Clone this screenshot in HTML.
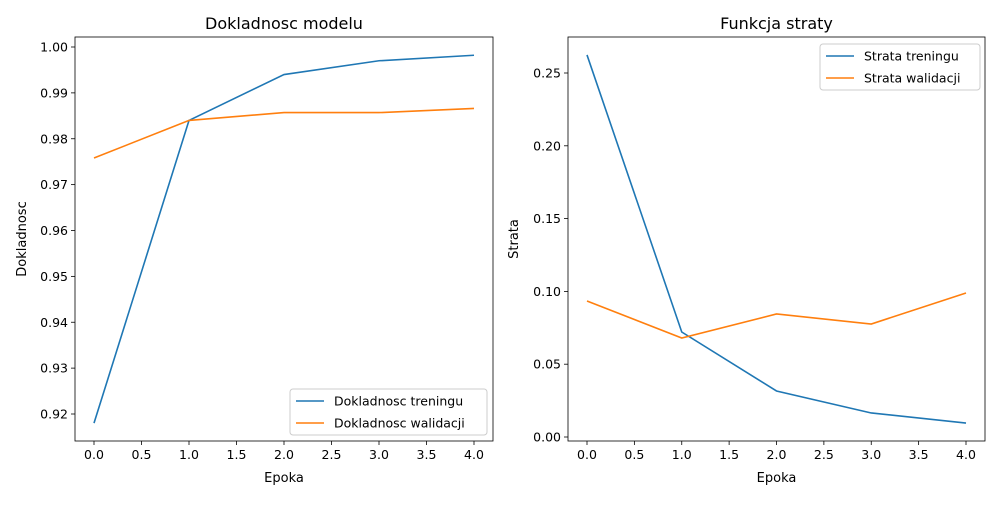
<!DOCTYPE html>
<html><head><meta charset="utf-8"><style>
body{margin:0;background:#fff;width:1000px;height:500px;overflow:hidden}
svg text{font-family:"DejaVu Sans","Liberation Sans",sans-serif;fill:#000}
</style></head><body>
<svg id="c" width="1000" height="500"></svg>
<script>
const epochs=[0,1,2,3,4];
const accTrain=[0.918,0.984,0.994,0.997,0.9982];
const accVal=[0.9758,0.984,0.9857,0.9857,0.9866];
const lossTrain=[0.2624,0.0721,0.0316,0.0165,0.0096];
const lossVal=[0.0934,0.068,0.0845,0.0776,0.0989];
const xTicks=[0,0.5,1,1.5,2,2.5,3,3.5,4];
const accTicks=[0.92,0.93,0.94,0.95,0.96,0.97,0.98,0.99,1.00];
const lossTicks=[0,0.05,0.10,0.15,0.20,0.25];
const NS='http://www.w3.org/2000/svg';
const svg=document.getElementById('c');
function el(t,a,p){const e=document.createElementNS(NS,t);for(const k in a)e.setAttribute(k,a[k]);(p||svg).appendChild(e);return e;}
function panel(o){
 const g=el('g',{});
 
 
 const X=v=>o.x0+(v-o.xv0)*o.xs, Y=v=>o.y0-(v-o.yv0)*o.ys;
 xTicks.forEach(t=>{const x=X(t);el('line',{x1:x,x2:x,y1:o.bottom,y2:o.bottom+4,stroke:'#000','stroke-width':0.8},g);
  const tx=el('text',{x:x,y:o.bottom+18,'font-size':12.5,'text-anchor':'middle'},g);tx.textContent=t.toFixed(1);
  });
 o.yt.forEach(t=>{const y=Y(t);el('line',{x1:o.left-4,x2:o.left,y1:y,y2:y,stroke:'#000','stroke-width':0.8},g);
  const tx=el('text',{x:o.left-7,y:y+4.5,'font-size':12.5,'text-anchor':'end'},g);tx.textContent=t.toFixed(2);
  });
 [[o.tr,'#1f77b4','train'],[o.va,'#ff7f0e','val']].forEach(([d,c,n])=>{
  const p=el('polyline',{points:d.map((v,i)=>X(epochs[i])+','+Y(v)).join(' '),fill:'none',stroke:c,'stroke-width':1.6},g);
  });
 el('rect',{x:o.left,y:37,width:o.right-o.left,height:o.bottom-37,fill:'none',stroke:'#000','stroke-width':0.8},g);
 const ti=el('text',{x:(o.left+o.right)/2,y:29,'font-size':16,'text-anchor':'middle'},g);ti.textContent=o.title;
 
 const xl=el('text',{x:(o.left+o.right)/2,y:482,'font-size':13,'text-anchor':'middle'},g);xl.textContent='Epoka';
 
 const yl=el('text',{x:0,y:0,'font-size':13,'text-anchor':'middle',transform:`translate(${o.ylx},${(37+o.bottom)/2}) rotate(-90)`},g);yl.textContent=o.ylabel;
 
 const lg=el('g',{},g);
 el('rect',{x:o.lx,y:o.ly,width:o.lw,height:46,rx:3,fill:'#fff','fill-opacity':0.8,stroke:'#ccc'},lg);
 o.labels.forEach((s,i)=>{const yy=o.ly+12+i*22;
  el('line',{x1:o.lx+6,x2:o.lx+34,y1:yy,y2:yy,stroke:i?'#ff7f0e':'#1f77b4','stroke-width':1.6},lg);
  const t=el('text',{x:o.lx+44,y:yy+4.5,'font-size':12.5},lg);t.textContent=s;
  });
}
panel({name:'accuracy-chart',left:75,right:493,bottom:441,x0:94,xv0:0,xs:95,y0:47,yv0:1.0,ys:4587.5,yt:accTicks,tr:accTrain,va:accVal,
 title:'Dokladnosc modelu',ylabel:'Dokladnosc',ylx:26,lx:290,ly:389,lw:197,labels:['Dokladnosc treningu','Dokladnosc walidacji']});
panel({name:'loss-chart',left:568,right:985,bottom:441,x0:587,xv0:0,xs:94.75,y0:437,yv0:0,ys:1456,yt:lossTicks,tr:lossTrain,va:lossVal,
 title:'Funkcja straty',ylabel:'Strata',ylx:518,lx:820,ly:44,lw:160,labels:['Strata treningu','Strata walidacji']});
</script>
</body></html>
